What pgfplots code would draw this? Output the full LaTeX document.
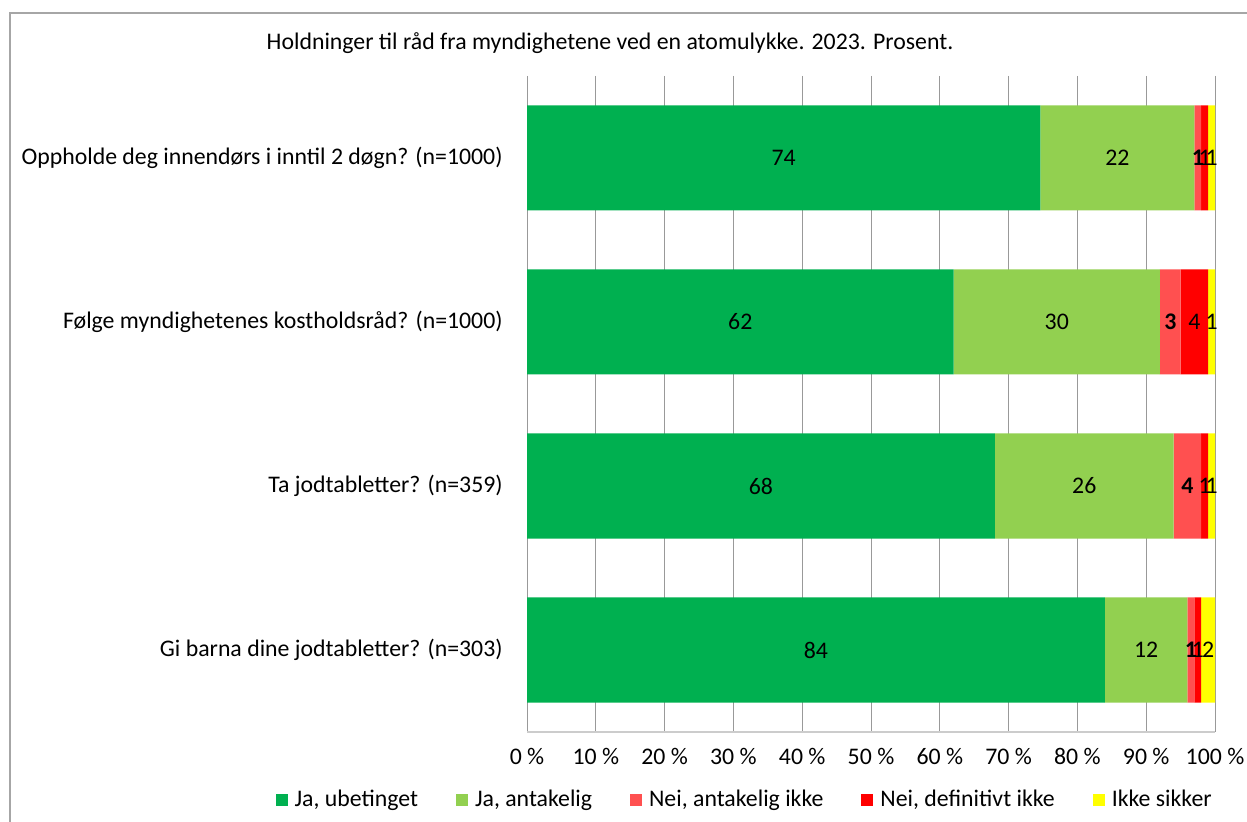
\documentclass[border=0pt]{standalone}
\usepackage{fontspec}
\setmainfont{Carlito}
\usepackage{pgfplots}
\pgfplotsset{compat=1.18}
\definecolor{cA}{HTML}{00B050}
\definecolor{cB}{HTML}{92D050}
\definecolor{cC}{HTML}{FF5050}
\definecolor{cD}{HTML}{FF0000}
\definecolor{cE}{HTML}{FFFF00}
\pgfplotsset{mybase/.style={at={(263.5pt,45pt)}, anchor=south west, scale only axis,
  width=344pt, height=328pt, xmin=0, xmax=100, ymin=-0.5, ymax=3.5, y dir=reverse}}
\begin{document}
\fontsize{11.9}{14}\selectfont
\begin{tikzpicture}
\path[use as bounding box] (0,0) rectangle (623.5pt,411pt);
\draw[color=black!35, line width=1pt] (5pt,0) -- (5pt,404.5pt) -- (623.5pt,404.5pt);
\node at (305pt,389.5pt) {Holdninger til råd fra myndighetene ved en atomulykke. 2023. Prosent.};
\begin{axis}[mybase, xbar stacked, bar width=52.5pt,
  axis line style={draw=none}, major tick length=0pt,
  xtick={0,10,...,100}, xticklabel={\pgfmathprintnumber{\tick}\ \%},
  xmajorgrids, grid style={black!40, line width=0.5pt},
  ytick={0,1,2,3},
  yticklabels={Oppholde deg innendørs i inntil 2 døgn? (n=1000),
               Følge myndighetenes kostholdsråd? (n=1000),
               Ta jodtabletter? (n=359),
               Gi barna dine jodtabletter? (n=303)},
  yticklabel style={xshift=-8pt}, xticklabel style={yshift=-4pt},
  /pgf/number format/assume math mode=true,
  legend columns=5,
  legend style={at={(0.317,-0.104)}, anchor=center, draw=none,
    /tikz/every even column/.append style={column sep=17.5pt},
    nodes={inner sep=1.5pt}},
  legend image code/.code={\fill[#1] (0pt,-3pt) rectangle (6pt,3pt); \path (8pt,0pt);},
  legend cell align=left]
\addplot[fill=cA, draw=none] coordinates {(74.6,0) (62,1) (68,2) (84,3)};
\addplot[fill=cB, draw=none] coordinates {(22.4,0) (30,1) (26,2) (12,3)};
\addplot[fill=cC, draw=none] coordinates {(1,0) (3,1) (4,2) (1,3)};
\addplot[fill=cD, draw=none] coordinates {(1,0) (4,1) (1,2) (1,3)};
\addplot[fill=cE, draw=none] coordinates {(1,0) (1,1) (1,2) (2,3)};
\legend{{Ja, ubetinget}, {Ja, antakelig}, {Nei, antakelig ikke}, {Nei, definitivt ikke}, {Ikke sikker}}
\draw[black!20, line width=1pt] (axis cs:0,3.5) -- (axis cs:100,3.5);
\end{axis}
\begin{axis}[mybase, hide axis]
\addplot[draw=none, mark=none, nodes near coords, point meta=explicit symbolic,
  every node near coord/.style={anchor=center, inner sep=0pt}]
 coordinates {
 (37.3,0) [74] (85.8,0) [22] (97.5,0) [\textbf{1}] (98.5,0) [1] (99.5,0) [1]
 (31,1) [62] (77,1) [30] (93.5,1) [\textbf{3}] (97,1) [4] (99.5,1) [1]
 (34,2) [68] (81,2) [26] (96,2) [\textbf{4}] (98.5,2) [1] (99.5,2) [1]
 (42,3) [84] (90,3) [12] (96.5,3) [\textbf{1}] (97.5,3) [1] (99,3) [2]
 };
\end{axis}
\end{tikzpicture}
\end{document}
